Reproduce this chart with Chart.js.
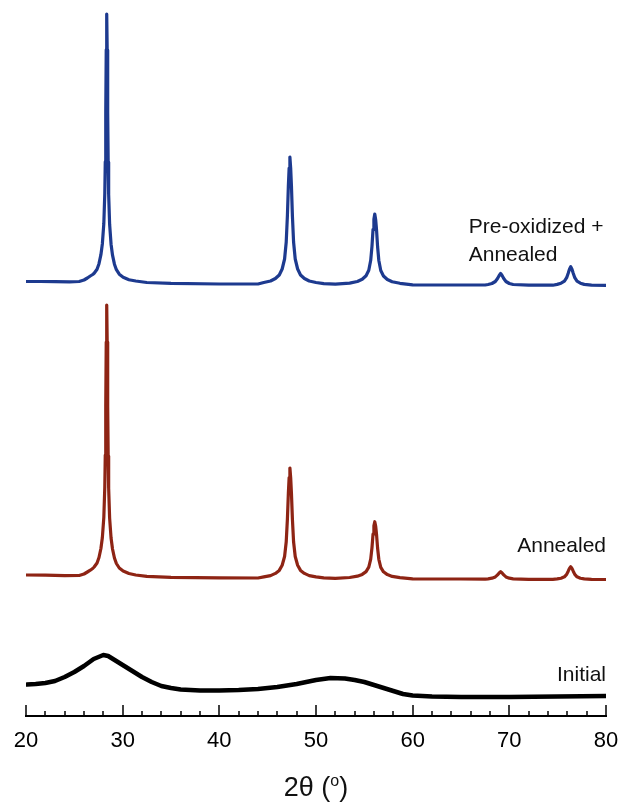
<!DOCTYPE html>
<html>
<head>
<meta charset="utf-8">
<script src="https://cdn.jsdelivr.net/npm/chart.js@4.4.0/dist/chart.umd.min.js"></script>
<style>
  html, body { margin: 0; padding: 0; background: #fff; }
  canvas { display: block; }
</style>
</head>
<body>
<canvas id="xrd" width="619" height="804"></canvas>
<script>
const FONT = '"Liberation Sans", Arial, sans-serif';

// [2θ (deg), signal (a.u.)] per trace, signal measured above the trace's own offset
const preoxidized = [
  [20.1, 4.5], [21.5, 4.5], [23, 4.3], [24.5, 4.2], [25.5, 4.5], [26.0, 6.0], [26.35, 8.0], [26.65, 10.0],
  [26.9, 11.5], [27.05, 12.8], [27.35, 16.8], [27.55, 22.3], [27.75, 31.3], [27.9, 42.3], [28.05, 62.3],
  [28.15, 92.3], [28.2, 124.3], [28.25, 174.3], [28.3, 236.3], [28.35, 272], [28.4, 235.8], [28.45, 173.8],
  [28.5, 123.8], [28.55, 91.8], [28.65, 61.8], [28.8, 41.8], [28.95, 30.8], [29.15, 21.8], [29.35, 16.3],
  [29.65, 11.8], [30.05, 8.8], [30.65, 6.3], [31.35, 5.0], [32.5, 3.5], [35, 2.6], [40, 2.0], [44, 2.0],
  [44.6, 3.5], [45.3, 5], [45.8, 7.5], [46.2, 11], [46.5, 17], [46.75, 27], [46.92, 44], [47.04, 70],
  [47.14, 100], [47.22, 118], [47.3, 129], [47.38, 118], [47.46, 100], [47.56, 70], [47.68, 44], [47.85, 27],
  [48.1, 17], [48.4, 11], [48.8, 7.5], [49.3, 5], [50.0, 3.5], [50.8, 2.4],
  [52, 1.8], [53.48, 2.9], [54.28, 4.5], [54.78, 6.7], [55.18, 10.2], [55.46, 15.7], [55.66, 25.7],
  [55.79, 39.7], [55.9, 56.7], [55.99, 66.7], [56.08, 72], [56.17, 66.5], [56.26, 56.5], [56.37, 39.5],
  [56.5, 25.5], [56.7, 15.5], [56.98, 10], [57.38, 6.5], [57.88, 4.3], [58.68, 2.7],
  [60, 1.2], [65, 1.0], [67.5, 1.0],
  [67.8, 1.5], [68.2, 2.5], [68.55, 4.5], [68.78, 7.5], [68.95, 10.5], [69.1, 12.5], [69.25, 10.5],
  [69.42, 7.5], [69.65, 4.5], [70.0, 2.5], [70.4, 1.5],
  [72, 0.8], [74.5, 0.8],
  [74.95, 1.6], [75.35, 2.8], [75.7, 4.8], [75.93, 8.3], [76.09, 12.8], [76.22, 16.8], [76.35, 19.3],
  [76.48, 16.8], [76.61, 12.8], [76.77, 8.3], [77.0, 4.8], [77.35, 2.8], [77.75, 1.6],
  [78.5, 0.8], [80, 0.6]
];

const annealed = [
  [20.1, 5], [22, 4.8], [24, 4.3], [25.5, 4.5], [26.0, 6.0], [26.35, 8.0], [26.65, 9.8], [26.9, 11.5],
  [27.05, 13], [27.35, 17], [27.55, 22.5], [27.75, 31.5], [27.9, 42.5], [28.05, 62.5], [28.15, 92.5],
  [28.2, 125], [28.25, 175], [28.3, 238], [28.35, 275], [28.4, 238], [28.45, 174], [28.5, 124],
  [28.55, 92], [28.65, 62], [28.8, 42], [28.95, 31], [29.15, 22], [29.35, 16.5], [29.65, 12],
  [30.05, 9], [30.65, 6.5], [31.35, 5.0], [32.5, 3.6], [35, 2.6], [40, 2.2], [44, 2.0],
  [44.6, 3.1], [45.3, 4.4], [45.8, 6.6], [46.2, 9.6], [46.5, 14.8], [46.75, 23.5], [46.92, 38.2],
  [47.04, 60.7], [47.14, 86.7], [47.22, 102.3], [47.3, 112], [47.38, 102.3], [47.46, 86.7], [47.56, 60.7],
  [47.68, 38.2], [47.85, 23.5], [48.1, 14.8], [48.4, 9.6], [48.8, 6.6], [49.3, 4.4], [50.0, 3.1], [50.8, 2.2],
  [52, 1.7], [53.48, 2.5], [54.28, 3.8], [54.78, 5.6], [55.18, 8.4], [55.46, 12.8], [55.66, 20.9],
  [55.79, 32.2], [55.9, 46], [55.99, 54.1], [56.08, 58.3], [56.17, 54], [56.26, 45.8], [56.37, 32],
  [56.5, 20.7], [56.7, 12.6], [56.98, 8.2], [57.38, 5.4], [57.88, 3.6], [58.68, 2.3],
  [60, 1.2], [65, 1.0], [67.5, 0.9],
  [67.8, 1.2], [68.2, 1.8], [68.55, 3.1], [68.78, 5.1], [68.95, 7.0], [69.1, 8.3], [69.25, 7.0],
  [69.42, 5.1], [69.65, 3.1], [70.0, 1.8], [70.4, 1.2],
  [72, 0.7], [74.5, 0.7],
  [74.95, 1.1], [75.35, 1.8], [75.7, 3.2], [75.93, 5.6], [76.09, 8.8], [76.22, 11.6], [76.35, 13.3],
  [76.48, 11.6], [76.61, 8.8], [76.77, 5.6], [77.0, 3.2], [77.35, 1.8], [77.75, 1.1],
  [78.5, 0.6], [80, 0.5]
];

const initial = [
  [20.1, 15.5], [21, 16], [22, 17], [23, 19], [24, 23], [25, 28], [26, 34], [27, 41], [27.5, 43],
  [28, 45], [28.5, 44], [29, 41], [30, 35], [31, 29], [32, 23], [33, 18], [34, 14], [35, 12],
  [36, 10.5], [38, 9.5], [40, 9.5], [42, 10], [44, 11], [46, 13], [48, 16], [50, 20], [51.5, 22],
  [53, 21.5], [54, 20], [55, 18], [56, 15], [57, 12], [58, 9], [59, 6], [60, 4.5], [62, 3.5],
  [65, 3], [70, 3], [75, 3.5], [80, 4]
];

const traces = [preoxidized, annealed, initial];
const offsets = [430, 136, 16];
const traceNames = [['Pre-oxidized +', 'Annealed'], ['Annealed'], ['Initial']];
const traceColors = ['#1d3a8f', '#8e2414', '#000000'];
const traceWidths = [3.2, 3.2, 4.5];
// label position: 2θ, height above the trace offset, text alignment
const labelAnchors = [[65.8, 53.5, 'left'], [80, 28.3, 'right'], [80, 19.5, 'right']];
const minorStep = 2;

// inward tick marks, trace labels and the 2θ axis title
const axisDecor = {
  id: 'axisDecor',
  afterDraw(chart) {
    const { ctx, chartArea, scales: { x, y } } = chart;
    ctx.save();
    ctx.strokeStyle = '#000';
    ctx.lineWidth = 1.5;
    for (let v = x.min; v <= x.max; v += minorStep) {
      const px = Math.round(x.getPixelForValue(v));
      const len = v % 10 === 0 ? 11 : 5;
      ctx.beginPath();
      ctx.moveTo(px, chartArea.bottom);
      ctx.lineTo(px, chartArea.bottom - len);
      ctx.stroke();
    }

    ctx.fillStyle = '#111';
    ctx.font = `21px ${FONT}`;
    ctx.textBaseline = 'alphabetic';
    traceNames.forEach((lines, i) => {
      const [a, h, align] = labelAnchors[i];
      ctx.textAlign = align;
      lines.forEach((t, k) => {
        ctx.fillText(t, x.getPixelForValue(a), y.getPixelForValue(offsets[i] + h - k * 28.5));
      });
    });

    const big = `27px ${FONT}`, small = `16px ${FONT}`;
    const parts = [['2θ (', big, 0], ['o', small, -10], [')', big, 0]];
    ctx.textAlign = 'left';
    let w = 0;
    parts.forEach(p => { ctx.font = p[1]; w += ctx.measureText(p[0]).width; });
    let cx = (chartArea.left + chartArea.right) / 2 - w / 2;
    const base = chart.height - 8;
    parts.forEach(p => {
      ctx.font = p[1];
      ctx.fillText(p[0], cx, base + p[2]);
      cx += ctx.measureText(p[0]).width;
    });
    ctx.restore();
  }
};

new Chart(document.getElementById('xrd').getContext('2d'), {
  type: 'line',
  data: {
    datasets: traces.map((t, i) => ({
      label: traceNames[i].join(' '),
      data: t.map(([a, s]) => ({ x: a, y: s + offsets[i] })),
      borderColor: traceColors[i],
      borderWidth: traceWidths[i],
      borderJoinStyle: 'round',
      borderCapStyle: 'round',
      pointRadius: 0,
      tension: 0,
      fill: false
    }))
  },
  options: {
    responsive: false,
    animation: false,
    devicePixelRatio: 1,
    layout: { padding: { left: 26, right: 13, top: 6, bottom: 0 } },
    plugins: { legend: { display: false }, tooltip: { enabled: false } },
    scales: {
      x: {
        type: 'linear',
        min: 20,
        max: 80,
        afterFit(s) {
          s.height = 88;
          s.paddingLeft = 0;
          s.paddingRight = 0;
        },
        grid: { display: false },
        border: { display: true, color: '#000', width: 2 },
        ticks: { stepSize: 10, color: '#000', padding: 4, maxRotation: 0, font: { family: FONT, size: 22 } }
      },
      y: { display: false, min: 0, max: 710 }
    }
  },
  plugins: [axisDecor]
});
</script>
</body>
</html>
